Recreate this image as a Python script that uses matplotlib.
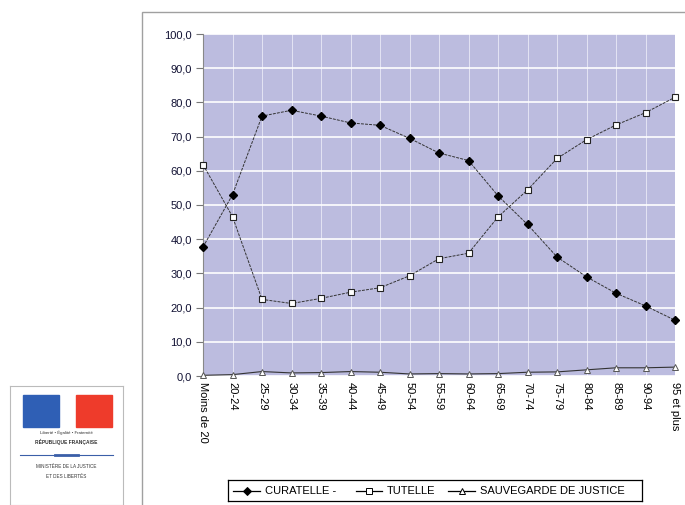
import matplotlib
matplotlib.use("Agg")
import matplotlib.pyplot as plt
from matplotlib.patches import Rectangle
import numpy as np

plt.rcParams['font.family'] = ['Liberation Sans', 'DejaVu Sans']

# data
ages = ["Moins de 20", "20-24", "25-29", "30-34", "35-39", "40-44", "45-49",
        "50-54", "55-59", "60-64", "65-69", "70-74", "75-79", "80-84",
        "85-89", "90-94", "95 et plus"]
curatelle = [37.7, 53.0, 76.0, 77.7, 76.0, 74.0, 73.3, 69.5, 65.2, 63.0,
             52.7, 44.3, 34.8, 29.0, 24.2, 20.5, 16.3]
tutelle = [61.8, 46.6, 22.4, 21.2, 22.7, 24.5, 25.8, 29.3, 34.3, 35.9,
           46.5, 54.4, 63.6, 69.1, 73.4, 77.0, 81.5]
sauvegarde = [0.2, 0.4, 1.3, 0.9, 1.0, 1.3, 1.1, 0.6, 0.7, 0.6,
              0.7, 1.1, 1.2, 1.8, 2.4, 2.4, 2.6]
y_ticks = np.arange(0, 101, 10)

W, H = 685, 505
fig = plt.figure(figsize=(W / 100, H / 100), dpi=100)

def px(x0, y0, x1, y1):
    # pixel box (top-left origin) -> figure fraction rect
    return [x0 / W, 1 - y1 / H, (x1 - x0) / W, (y1 - y0) / H]

# outer chart frame
fig.patches.append(Rectangle((142 / W, -0.1), 1.0, 1 - 12 / H + 0.1,
                             transform=fig.transFigure, fill=False,
                             ec="#a0a0a0", lw=1.0))

ax = fig.add_axes(px(203, 34, 675, 376))
ax.set_facecolor("#bcbcdf")
x = np.arange(len(ages))

ax.plot(x, curatelle, color="#333333", lw=0.7, ls=(0, (3, 1.2)), marker="D",
        ms=4, mfc="black", mec="black", clip_on=False, zorder=3)
ax.plot(x, tutelle, color="#333333", lw=0.7, ls=(0, (3, 1.2)), marker="s",
        ms=4, mfc="white", mec="#222222", mew=0.8, clip_on=False, zorder=3)
ax.plot(x, sauvegarde, color="#333333", lw=0.8, marker="^",
        ms=4, mfc="white", mec="#555555", mew=0.7, clip_on=False, zorder=3)

ax.set_xlim(0, len(ages) - 1)
ax.set_ylim(0, 100)
ax.set_yticks(y_ticks)
ax.set_yticklabels([f"{v:.1f}".replace(".", ",") for v in y_ticks],
                   fontsize=8, color="#111133")
ax.set_xticks(x)
ax.set_xticklabels(ages, rotation=-90, fontsize=8, va="top", ha="center")
ax.tick_params(axis="y", length=5, color="#777777", pad=3)
ax.tick_params(axis="x", length=0, pad=4)
ax.grid(True, axis="y", color="white", lw=1.2)
ax.grid(True, axis="x", color="#e4e4f4", lw=0.7)
ax.set_axisbelow(True)
for s in ["top", "right", "bottom"]:
    ax.spines[s].set_visible(False)
ax.spines["left"].set_color("#888888")

# legend
lax = fig.add_axes(px(228, 480, 642, 501))
lax.set_xlim(228, 642)
lax.set_ylim(0, 21)
lax.set_xticks([])
lax.set_yticks([])
for s in lax.spines.values():
    s.set_color("black")
    s.set_linewidth(0.9)
items = [(233, 260, "D", "black", "CURATELLE -"),
         (356, 382, "s", "white", "TUTELLE"),
         (448, 475, "^", "white", "SAUVEGARDE DE JUSTICE")]
for x0, x1, m, fc, lab in items:
    lax.plot([x0, x1], [10.5, 10.5], color="black", lw=0.9)
    lax.plot([(x0 + x1) / 2], [10.5], marker=m, ms=4, mfc=fc, mec="black",
             mew=0.7)
    lax.text(x1 + 5, 10.2, lab, fontsize=8, va="center", ha="left")

# ministry logo
gax = fig.add_axes(px(10, 386, 123, 505))
gax.set_xlim(0, 113)
gax.set_ylim(119, 0)
gax.set_xticks([])
gax.set_yticks([])
for s in gax.spines.values():
    s.set_color("#bbbbbb")
gax.add_patch(Rectangle((13, 9), 36, 32, color="#2f5fb5"))
gax.add_patch(Rectangle((66, 9), 36, 32, color="#ee3b2b"))
gax.text(56, 47, "Liberté • Égalité • Fraternité", fontsize=3.2, ha="center",
         va="center", color="#333333")
gax.text(56, 56, "RÉPUBLIQUE FRANÇAISE", fontsize=3.5, ha="center",
         va="center", color="#333333", fontweight="bold")
gax.plot([10, 103], [69, 69], color="#3b5fa8", lw=0.8)
gax.plot([45, 68], [69, 69], color="#3b5fa8", lw=2)
gax.text(56, 80, "MINISTÈRE DE LA JUSTICE", fontsize=3.3, ha="center",
         va="center", color="#333333")
gax.text(56, 91, "ET DES LIBERTÉS", fontsize=3.3, ha="center",
         va="center", color="#333333")

fig.savefig("out.png", dpi=100)
